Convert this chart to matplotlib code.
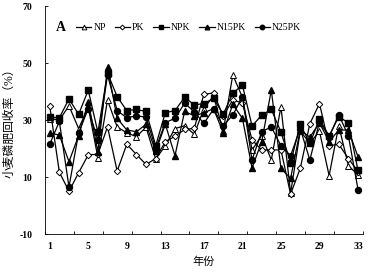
import matplotlib
matplotlib.use("Agg")
from matplotlib import pyplot as plt
import numpy as np

years = np.arange(1, 34)

# nilai (perkiraan)
NP    = [30.5, 30, 35, 27, 34.5, 16.8, 37, 27.6, 25.5, 24.2, 27.5, 16.3, 21, 27, 28,
         25, 34, 38.5, 26, 45.8, 38, 19.5, 24.5, 16, 34.7, 4.3, 26, 22, 26, 10.5, 28, 14, 10.7]
PK    = [35, 11.7, 5, 11.5, 17.8, 18, 27.6, 12.1, 21.5, 17.9, 14.4, 16.5, 22.4, 24.3, 26.7,
         27.1, 39, 39.5, 31.5, 37, 36, 23, 19.5, 19.5, 19.5, 4, 13, 28.7, 35.8, 21, 21.5, 16.5, 11.9]
NPK   = [31, 30.8, 37.4, 32, 40.5, 25.7, 46.5, 38.2, 33.3, 33.7, 33, 21, 32.6, 33.3, 38,
         35.3, 35.8, 37.6, 32, 39.4, 42.3, 27.9, 31.7, 33.7, 25.8, 15, 28.5, 21.8, 30.3, 24.4, 31.2, 29, 12.3]
N15PK = [25.5, 24.7, 15.4, 24.5, 36.5, 18.9, 48.5, 30.6, 26.5, 25.9, 28.5, 19, 28.5, 17.5, 33,
         31.5, 32.5, 34, 25.6, 35.5, 30.6, 13.2, 22.4, 40.5, 13, 9.5, 26.5, 24, 29, 22.4, 26.5, 26.5, 17.1]
N25PK = [21.5, 29.5, 6.5, 25.5, 34, 23, 45.8, 33.3, 30.8, 31.5, 31, 20, 29.1, 30.6, 35.9,
         32.9, 28.8, 33.8, 28, 31.7, 38.2, 16, 25.9, 27.6, 21, 17.5, 27, 16, 29.4, 24.1, 31.8, 24.5, 5.6]

plt.rcParams['font.family'] = ['Liberation Serif', 'Noto Sans CJK SC']

fig = plt.figure(figsize=(3.68, 2.75), dpi=100)
ax = fig.add_axes([0.122, 0.149, 0.864, 0.829])

ax.plot(years, NP, color='black', lw=0.9, marker='^', ms=4.5, mfc='white', mec='black', mew=0.7, label='NP')
ax.plot(years, PK, color='black', lw=0.9, marker='D', ms=3.3, mfc='white', mec='black', mew=0.7, label='PK')
ax.plot(years, NPK, color='black', lw=0.9, marker='s', ms=4.3, mfc='black', mec='black', label='NPK')
ax.plot(years, N15PK, color='black', lw=0.9, marker='^', ms=4.5, mfc='black', mec='black', label='N15PK')
ax.plot(years, N25PK, color='black', lw=0.9, marker='o', ms=4.3, mfc='black', mec='black', label='N25PK')

ax.set_xlim(0.5, 33.5)
ax.set_ylim(-10, 70)
ax.set_yticks([-10, 10, 30, 50, 70])
ax.set_yticklabels(['-10', '10', '30', '50', '70'])
ax.set_xticks(np.arange(0.5, 34, 3))
ax.set_xticklabels([])
ax.set_xticks([1, 5, 9, 13, 17, 21, 25, 29, 33], minor=True)
ax.set_xticklabels(['1', '5', '9', '13', '17', '21', '25', '29', '33'], minor=True)
ax.tick_params(axis='x', which='minor', length=0, pad=6, labelsize=7)
ax.tick_params(axis='x', which='major', direction='in', length=2.5, width=0.6)
ax.tick_params(axis='y', direction='in', length=2.5, width=0.6, labelsize=7, pad=9)
for t in ax.get_xticklabels(minor=True) + ax.get_yticklabels():
    t.set_fontweight('bold')

ax.spines['top'].set_visible(False)
ax.spines['right'].set_visible(False)
ax.spines['left'].set_linewidth(0.6)
ax.spines['bottom'].set_linewidth(0.6)

ax.set_ylabel('小麦磷肥回收率（%）', fontsize=8.5, labelpad=3)
ax.set_xlabel('年份', fontsize=8, labelpad=4)

ax.text(0.035, 0.905, 'A', transform=ax.transAxes, fontsize=10, fontweight='bold', va='center')
ax.legend(loc='center left', bbox_to_anchor=(0.085, 0.905), ncol=5, frameon=False,
          fontsize=7, handlelength=1.6, handletextpad=0.2, columnspacing=0.9,
          borderaxespad=0, markerscale=0.75)

fig.savefig('out.png', dpi=100)
